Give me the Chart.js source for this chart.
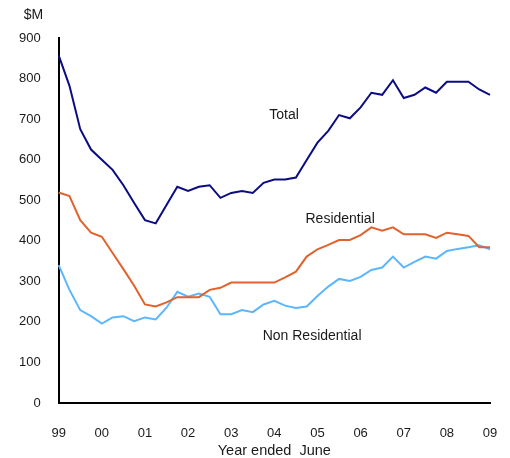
<!DOCTYPE html>
<html>
<head>
<meta charset="utf-8">
<script src="https://cdn.jsdelivr.net/npm/chart.js@4"></script>
<style>
  body { margin: 0; background: #fff; }
  #wrap { width: 510px; height: 458px; }
</style>
</head>
<body>
<div id="wrap"><canvas id="chart0"></canvas></div>
<script>
// year ended June, quarterly from Jun-99 to Jun-09
const yearLabels = ['99', '00', '01', '02', '03', '04', '05', '06', '07', '08', '09'];
const quarterNames = ['Jun', 'Sep', 'Dec', 'Mar'];

const total = [857, 782, 675, 625, 600, 575, 537, 493, 451, 443,
    488, 533, 523, 533, 537, 506, 518, 523, 518, 543,
    551, 551, 556, 599, 642, 671, 710, 702, 729, 765,
    760, 796, 752, 760, 778, 765, 792, 792, 792, 773, 760];
const residential = [519, 510, 451, 420, 410, 370, 330, 289, 243, 238,
    248, 261, 261, 261, 279, 284, 297, 297, 297, 297,
    297, 310, 324, 361, 379, 390, 402, 402, 414, 433,
    425, 433, 416, 416, 416, 407, 420, 416, 412, 384, 384];
const nonResidential = [340, 279, 229, 214, 196, 211, 214, 202, 211, 206,
    235, 274, 262, 270, 262, 219, 219, 229, 224, 243,
    252, 240, 234, 238, 264, 287, 306, 301, 311, 328,
    334, 361, 334, 348, 361, 356, 375, 380, 384, 389, 379];

const seriesNames = ['Total', 'Residential', 'Non Residential'];
const seriesColors = ['#0c0c82', '#e0622c', '#5cb6fc'];

const labels0 = [];
for (let i = 0; i < total.length; i++)
    labels0.push(quarterNames[i % 4] + '-' + yearLabels[Math.floor((i + 2) / 4)]);

const FONT = '"Liberation Sans", Arial, sans-serif';

// text labels next to each line, plus the $M unit
const lineLabels = {
    id: 'lineLabels',
    afterDraw(chart) {
        const c = chart.ctx;
        const x = chart.scales.x, y = chart.scales.y;
        c.save();
        c.fillStyle = '#1a1a1a';
        c.font = '14px ' + FONT;
        c.textAlign = 'center';
        c.textBaseline = 'middle';
        const spots = [[20.9, 710], [26.1, 454], [23.5, 165]];
        spots.forEach((s, i) => {
            c.fillText(seriesNames[i], x.getPixelForValue(s[0]), y.getPixelForValue(s[1]));
        });
        c.textAlign = 'left';
        c.fillText('$M', chart.chartArea.left - 35, chart.chartArea.top - 23);
        c.restore();
    }
};

const datasets = [total, residential, nonResidential].map((d, i) => ({
    label: seriesNames[i],
    data: d,
    borderColor: seriesColors[i],
    backgroundColor: seriesColors[i],
    borderWidth: 2,
    pointRadius: 0,
    tension: 0,
}));

new Chart(document.getElementById('chart0').getContext('2d'), {
    type: 'line',
    data: { labels: labels0, datasets: datasets },
    options: {
        responsive: true,
        maintainAspectRatio: false,
        animation: false,
        layout: { padding: { top: 38, right: 20, left: 1, bottom: 0 } },
        plugins: {
            legend: { display: false },
            tooltip: { enabled: false },
        },
        scales: {
            x: {
                offset: false,
                // invisible tick marks only make room below the axis
                grid: {
                    display: true,
                    drawOnChartArea: false,
                    drawTicks: true,
                    tickLength: 23,
                    color: 'rgba(0,0,0,0)',
                },
                border: { display: true, color: '#000', width: 2 },
                ticks: {
                    autoSkip: false,
                    maxRotation: 0,
                    padding: 0,
                    color: '#1a1a1a',
                    font: { family: FONT, size: 13 },
                    callback: (v, i) => (i % 4 === 0 ? yearLabels[i / 4] : ''),
                },
                title: {
                    display: true,
                    text: 'Year ended  June',
                    color: '#1a1a1a',
                    font: { family: FONT, size: 14.5 },
                    padding: { top: 1, bottom: -2 },
                },
            },
            y: {
                min: 0,
                max: 900,
                grid: { display: false, drawTicks: false },
                border: { display: true, color: '#000', width: 2 },
                ticks: {
                    stepSize: 100,
                    padding: 18,
                    color: '#1a1a1a',
                    font: { family: FONT, size: 13 },
                },
            },
        },
    },
    plugins: [lineLabels],
});
</script>
</body>
</html>
